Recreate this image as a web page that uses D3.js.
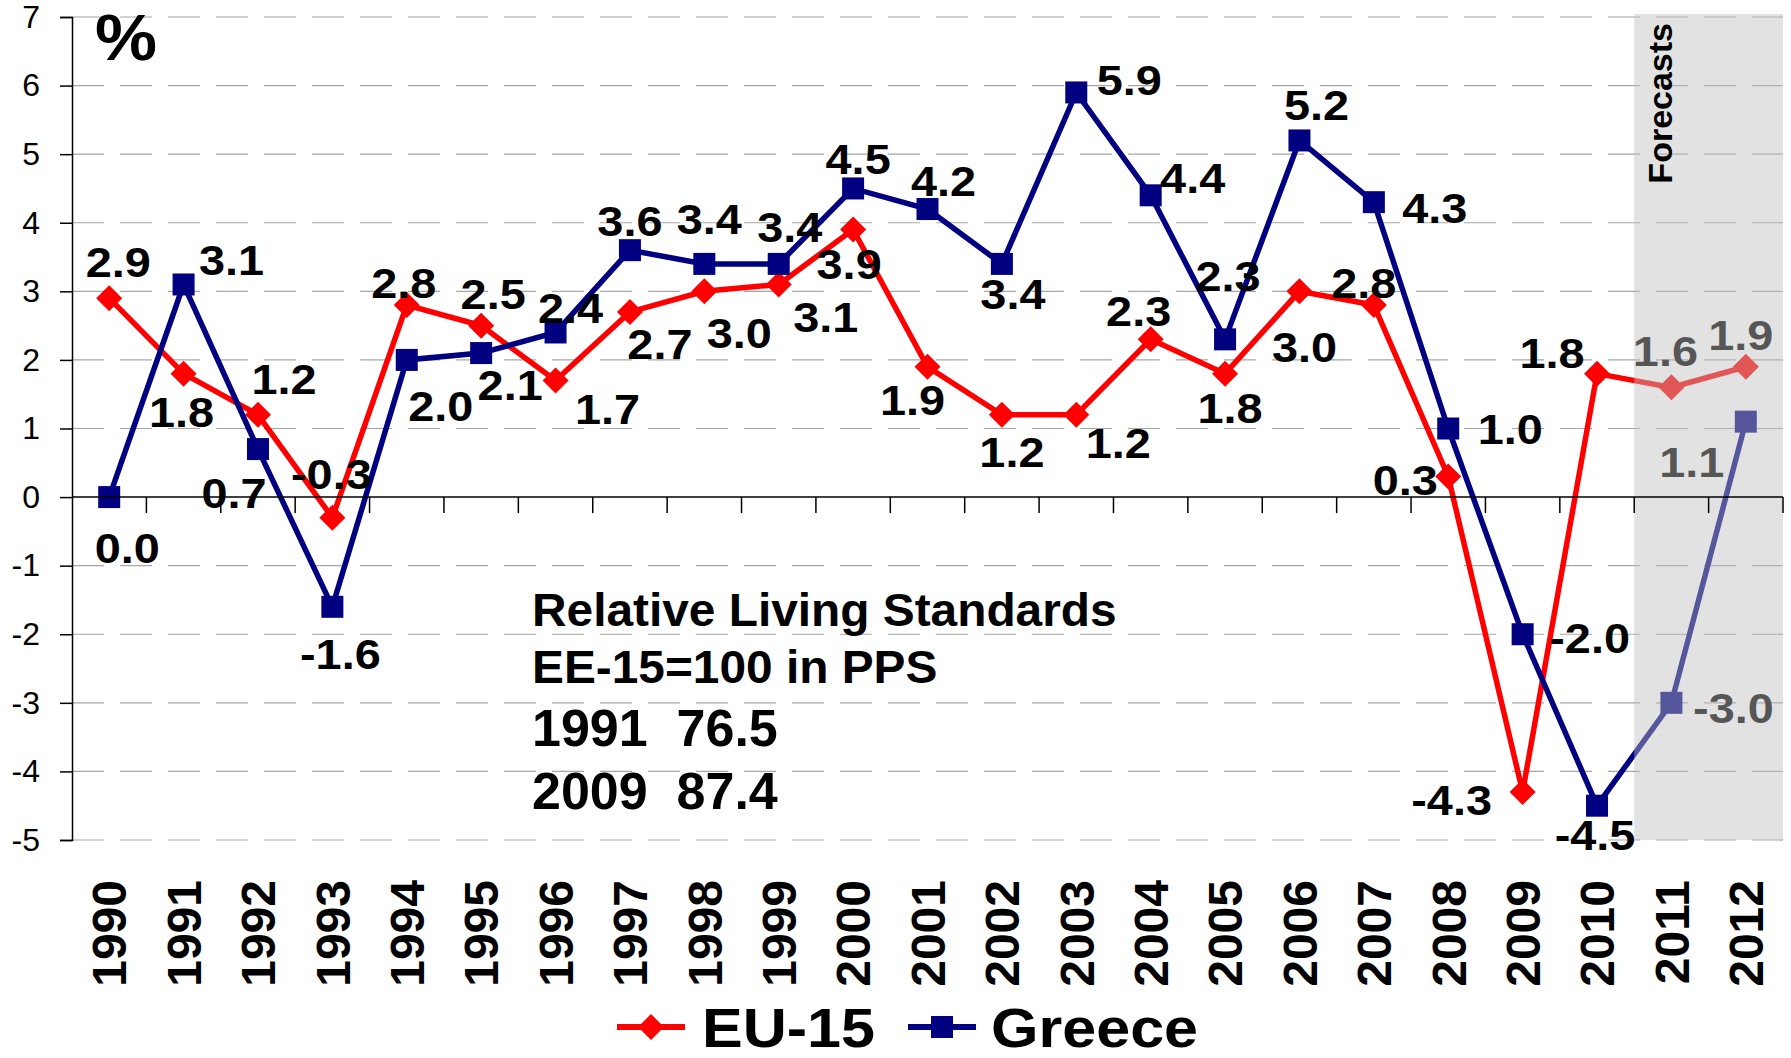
<!DOCTYPE html>
<html>
<head>
<meta charset="utf-8">
<script src="https://cdn.jsdelivr.net/npm/d3@7"></script>
<style>
  html, body { margin: 0; padding: 0; background: #fff; }
  text { font-family: "Liberation Sans", Arial, sans-serif; }
</style>
</head>
<body>
<div id="chart"></div>
<script>
const WIDTH = 1791;
const HEIGHT = 1058;

// data
const years = ['1990', '1991', '1992', '1993', '1994', '1995', '1996', '1997', '1998', '1999', '2000',
               '2001', '2002', '2003', '2004', '2005', '2006', '2007', '2008', '2009', '2010', '2011', '2012'];
const eu15 = [2.9, 1.8, 1.2, -0.3, 2.8, 2.5, 1.7, 2.7, 3.0, 3.1, 3.9,
              1.9, 1.2, 1.2, 2.3, 1.8, 3.0, 2.8, 0.3, -4.3, 1.8, 1.6, 1.9];
const greece = [0.0, 3.1, 0.7, -1.6, 2.0, 2.1, 2.4, 3.6, 3.4, 3.4, 4.5,
                4.2, 3.4, 5.9, 4.4, 2.3, 5.2, 4.3, 1.0, -2.0, -4.5, -3.0, 1.1];
const yTicks = [-5, -4, -3, -2, -1, 0, 1, 2, 3, 4, 5, 6, 7];
const forecastYears = ['2011', '2012'];
const noteLines = ['Relative Living Standards', 'EE-15=100 in PPS', '1991  76.5', '2009  87.4'];

// label offsets from each point (layout only)
const euLabelPos = [[9, -37], [-2, 38], [26, -36], [-1, -44], [-3, -23], [12, -32], [52, 28], [30, 32],
                    [35, 41], [47, 32], [-4, 34], [-15, 33], [10, 37], [42, 28], [-12, -29], [5, 34],
                    [5, 55], [-10, -23], [-43, 3], [-71, 8], [-45, -21], [-6, -37], [-5, -32]];
const grLabelPos = [[18, 50], [48, -25], [-24, 43], [8, 47], [34, 46], [29, 31], [15, -25], [0, -30],
                    [5, -45], [11, -37], [5, -30], [16, -29], [11, 30], [53, -13], [42, -18], [3, -64],
                    [17, -36], [61, 5], [62, 0], [67, 3], [-2, 29], [62, 5], [-54, 40]];

const plot = { left: 72, right: 1783, top: 17, bottom: 840 };
const STRETCH = 1.09; // the bold texts are a bit wider than plain Arial

const svg = d3.select('#chart')
  .append('svg')
    .attr('width', WIDTH)
    .attr('height', HEIGHT);

const x = d3.scaleBand()
  .domain(years)
  .range([plot.left, plot.right]);

const y = d3.scaleLinear()
  .domain([-5, 7])
  .range([plot.bottom, plot.top]);

const cx = d => x(d) + x.bandwidth() / 2;

// dashed grid
svg.append('g')
  .selectAll('line')
  .data(yTicks.filter(t => t !== 0))
  .enter()
  .append('line')
    .attr('x1', plot.left)
    .attr('x2', plot.right)
    .attr('y1', t => y(t))
    .attr('y2', t => y(t))
    .attr('stroke', '#a6a6a6')
    .attr('stroke-width', 1.2)
    .attr('stroke-dasharray', '32 16');

// series
const series = [
  { name: 'EU-15', values: eu15, color: '#ff0000', marker: 'diamond', pos: euLabelPos },
  { name: 'Greece', values: greece, color: '#000080', marker: 'square', pos: grLabelPos }
];

const line = d3.line()
  .x((v, i) => cx(years[i]))
  .y(v => y(v));

const diamond = (px, py, r) => `M${px},${py - r}L${px + r},${py}L${px},${py + r}L${px - r},${py}Z`;

const drawMarker = (g, kind, px, py, color) => {
  if (kind === 'diamond') {
    g.append('path').attr('d', diamond(px, py, 13)).attr('fill', color);
  } else {
    g.append('rect')
      .attr('x', px - 11).attr('y', py - 11)
      .attr('width', 22).attr('height', 22)
      .attr('fill', color);
  }
};

series.forEach(s => {
  const g = svg.append('g');
  g.append('path')
    .datum(s.values)
    .attr('d', line)
    .attr('fill', 'none')
    .attr('stroke', s.color)
    .attr('stroke-width', 5.5)
    .attr('stroke-linejoin', 'miter');
  s.values.forEach((v, i) => drawMarker(g, s.marker, cx(years[i]), y(v), s.color));
});

// data labels
series.forEach(s => {
  svg.append('g')
    .selectAll('text')
    .data(s.values)
    .enter()
    .append('text')
      .attr('transform', (v, i) =>
        `translate(${cx(years[i]) + s.pos[i][0]}, ${y(v) + s.pos[i][1]}) scale(${STRETCH}, 1)`)
      .attr('dy', '0.36em')
      .attr('text-anchor', 'middle')
      .attr('font-size', 43)
      .attr('font-weight', 'bold')
      .attr('fill', '#000')
      .text(v => v.toFixed(1));
});

// note text block
const noteSizes = [46, 46, 52, 52];
const noteStretch = [1.04, 1.04, 1, 1];
const noteBase = [626, 683, 746, 809];
svg.append('g')
  .selectAll('text')
  .data(noteLines)
  .enter()
  .append('text')
    .attr('transform', (d, i) => `translate(532, ${noteBase[i]}) scale(${noteStretch[i]}, 1)`)
    .attr('font-size', (d, i) => noteSizes[i])
    .attr('font-weight', 'bold')
    .attr('xml:space', 'preserve')
    .style('white-space', 'pre')
    .text(d => d);

// forecast shading (translucent, over the lines)
const fx0 = x(forecastYears[0]);
svg.append('rect')
  .attr('x', fx0)
  .attr('y', plot.top - 3)
  .attr('width', plot.right - fx0)
  .attr('height', plot.bottom - plot.top + 3)
  .attr('fill', 'rgb(190,190,190)')
  .attr('fill-opacity', 0.45);

svg.append('text')
  .attr('transform', `translate(${fx0 + 26}, ${plot.top + 6}) rotate(-90)`)
  .attr('text-anchor', 'end')
  .attr('dy', '0.36em')
  .attr('font-size', 34)
  .attr('font-weight', 'bold')
  .text('Forecasts');

// axes
const yAxis = d3.axisLeft(y)
  .tickValues(yTicks)
  .tickSize(12)
  .tickPadding(20)
  .tickFormat(d => String(d));

const yg = svg.append('g')
  .attr('transform', `translate(${plot.left}, 0)`)
  .call(yAxis);
yg.select('.domain').attr('stroke', '#000').attr('stroke-width', 1.5);
yg.selectAll('.tick line').attr('stroke', '#000').attr('stroke-width', 1.5);
yg.selectAll('.tick text')
  .attr('font-size', 32)
  .attr('font-family', '"Liberation Sans", Arial, sans-serif')
  .attr('fill', '#000');

// category axis at zero, ticks between categories
const xg = svg.append('g');
xg.append('line')
  .attr('x1', plot.left).attr('x2', plot.right)
  .attr('y1', y(0)).attr('y2', y(0))
  .attr('stroke', '#000').attr('stroke-width', 1.5);
xg.selectAll('.xtick')
  .data(years.slice(1).concat(['end']))
  .enter()
  .append('line')
    .attr('class', 'xtick')
    .attr('x1', d => d === 'end' ? plot.right : x(d))
    .attr('x2', d => d === 'end' ? plot.right : x(d))
    .attr('y1', y(0))
    .attr('y2', y(0) + 16)
    .attr('stroke', '#000')
    .attr('stroke-width', 1.5);

// year labels under the plot
svg.append('g')
  .selectAll('text')
  .data(years)
  .enter()
  .append('text')
    .attr('transform', d => `translate(${cx(d)}, ${plot.bottom + 40}) rotate(-90)`)
    .attr('text-anchor', 'end')
    .attr('dy', '0.36em')
    .attr('font-size', 48)
    .attr('font-weight', 'bold')
    .text(d => d);

// % sign
svg.append('text')
  .attr('transform', `translate(95, 60) scale(${STRETCH}, 1)`)
  .attr('font-size', 64)
  .attr('font-weight', 'bold')
  .text('%');

// legend
const legendY = 1027;
const legendItems = [
  { s: series[0], x0: 617, tx: 702 },
  { s: series[1], x0: 908, tx: 991 }
];
legendItems.forEach(item => {
  const g = svg.append('g');
  g.append('line')
    .attr('x1', item.x0).attr('x2', item.x0 + 68)
    .attr('y1', legendY).attr('y2', legendY)
    .attr('stroke', item.s.color)
    .attr('stroke-width', 6);
  drawMarker(g, item.s.marker, item.x0 + 34, legendY, item.s.color);
  g.append('text')
    .attr('transform', `translate(${item.tx}, ${legendY}) scale(${STRETCH + 0.02}, 1)`)
    .attr('dy', '0.36em')
    .attr('font-size', 55)
    .attr('font-weight', 'bold')
    .text(item.s.name);
});
</script>
</body>
</html>
